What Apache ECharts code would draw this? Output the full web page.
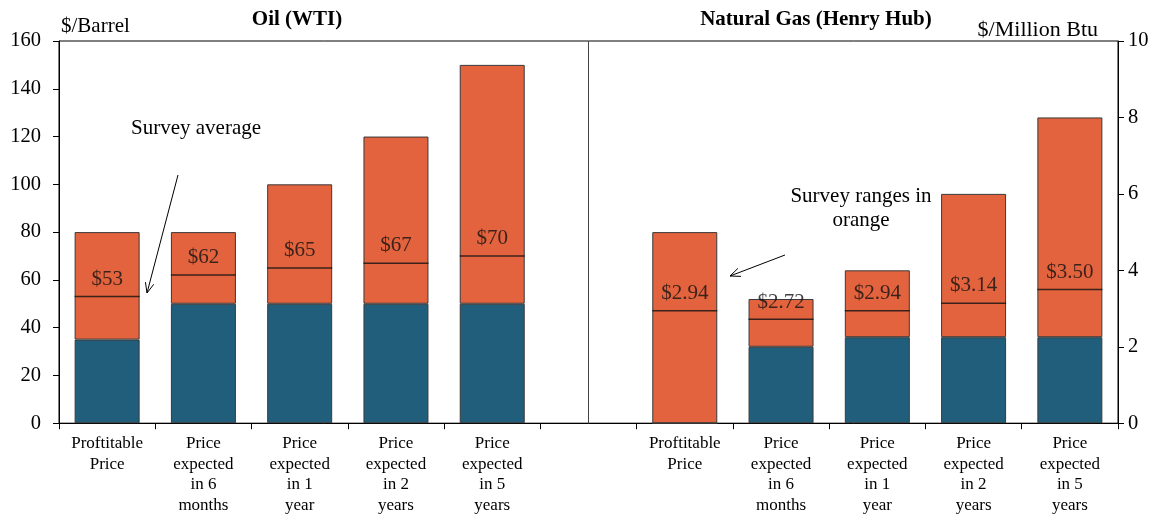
<!DOCTYPE html>
<html>
<head>
<meta charset="utf-8">
<script src="https://cdn.jsdelivr.net/npm/echarts@6/dist/echarts.min.js"></script>
<style>
  html, body { margin: 0; padding: 0; background: #fff; }
  #chart { width: 1167px; height: 516px; }
</style>
</head>
<body>
<div id="chart"></div>
<script>
// data
const categories = [
  'Proftitable\nPrice', 'Price\nexpected\nin 6\nmonths', 'Price\nexpected\nin 1\nyear',
  'Price\nexpected\nin 2\nyears', 'Price\nexpected\nin 5\nyears',
  '',
  'Proftitable\nPrice', 'Price\nexpected\nin 6\nmonths', 'Price\nexpected\nin 1\nyear',
  'Price\nexpected\nin 2\nyears', 'Price\nexpected\nin 5\nyears'
]
// oil, $/barrel (left axis)
const oilLow = [35, 50, 50, 50, 50]
const oilHigh = [80, 80, 100, 120, 150]
const oilAvg = [53, 62, 65, 67, 70]
// natural gas, $/million Btu (right axis)
const gasLow = [0, 2, 2.25, 2.25, 2.25]
const gasHigh = [5, 3.25, 4, 6, 8]
const gasAvg = [2.94, 2.72, 2.94, 3.14, 3.50]
const oilTicks = [0, 160, 20]
const gasTicks = [0, 10, 2]

const BLUE = '#215e7c'
const ORANGE = '#e2633d'
const EDGE = '#3a3a3a'
const FONT = '"Liberation Serif", "Times New Roman", serif'

// oil sits in slots 0-4, gas in 6-10
const pad = (arr, left) => {
  let out = categories.map(() => '-')
  arr.forEach((v, i) => { out[(left ? 0 : 6) + i] = v })
  return out
}
const range = (low, high) => high.map((h, i) => +(h - low[i]).toFixed(2))

function arrow(x1, y1, x2, y2) {
  let dx = x2 - x1, dy = y2 - y1
  let len = Math.sqrt(dx * dx + dy * dy)
  let ux = dx / len, uy = dy / len
  let h = 11, a = 0.4
  let p1 = [x2 - h * (ux * Math.cos(a) - uy * Math.sin(a)), y2 - h * (uy * Math.cos(a) + ux * Math.sin(a))]
  let p2 = [x2 - h * (ux * Math.cos(a) + uy * Math.sin(a)), y2 - h * (uy * Math.cos(a) - ux * Math.sin(a))]
  let style = { stroke: '#000', lineWidth: 1, fill: null }
  return [
    { type: 'line', shape: { x1, y1, x2, y2 }, style },
    { type: 'polyline', shape: { points: [p1, [x2, y2], p2] }, style }
  ]
}

function avgSeries(name, arr, left) {
  return {
    name,
    type: 'scatter',
    yAxisIndex: left ? 0 : 1,
    symbol: 'rect',
    symbolSize: [65, 1.5],
    itemStyle: { color: '#111' },
    z: 5,
    silent: true,
    label: {
      show: true,
      position: 'top',
      distance: 6,
      fontFamily: FONT,
      fontSize: 21,
      color: '#111',
      formatter: p => '$' + (left ? p.value : p.value.toFixed(2))
    },
    data: pad(arr, left)
  }
}

const chart = echarts.init(document.getElementById('chart'))

const barBase = {
  type: 'bar',
  barWidth: 65,
  barGap: '-100%',
  silent: true
}

const headStyle = (bold, size) => ({ fontFamily: FONT, fontSize: size || 21, fontWeight: bold ? 'bold' : 'normal', color: '#000' })

const option = {
  animation: false,
  textStyle: { fontFamily: FONT },
  grid: { left: 59, right: 49, top: 41, bottom: 92, show: true, borderColor: '#000', borderWidth: 1 },
  title: [
    { text: 'Oil (WTI)', left: 297, top: 9, padding: 0, textAlign: 'center', textStyle: headStyle(true) },
    { text: 'Natural Gas (Henry Hub)', left: 816, top: 9, padding: 0, textAlign: 'center', textStyle: headStyle(true) },
    { text: '$/Barrel', left: 61, top: 16, padding: 0, textStyle: headStyle(false) },
    { text: '$/Million Btu', right: 69, top: 19, padding: 0, textStyle: headStyle(false, 22) }
  ],
  xAxis: {
    type: 'category',
    data: categories,
    axisLine: { lineStyle: { color: '#000', width: 1 } },
    axisTick: { show: true, length: 6, interval: 0, lineStyle: { color: '#000' } },
    axisLabel: { interval: 0, fontFamily: FONT, fontSize: 17, lineHeight: 20.7, color: '#000', margin: 10 }
  },
  yAxis: [
    {
      type: 'value', min: oilTicks[0], max: oilTicks[1], interval: oilTicks[2],
      axisLine: { show: true, lineStyle: { color: '#000' } },
      axisTick: { show: true, length: 6, lineStyle: { color: '#000' } },
      splitLine: { show: false },
      axisLabel: { fontFamily: FONT, fontSize: 20.5, color: '#000', margin: 18 }
    },
    {
      type: 'value', min: gasTicks[0], max: gasTicks[1], interval: gasTicks[2], position: 'right',
      axisLine: { show: true, lineStyle: { color: '#000' } },
      axisTick: { show: true, length: 6, lineStyle: { color: '#000' } },
      splitLine: { show: false },
      axisLabel: { fontFamily: FONT, fontSize: 20.5, color: '#000', margin: 10 }
    }
  ],
  series: [
    Object.assign({}, barBase, {
      name: 'Oil low', stack: 'oil', yAxisIndex: 0,
      itemStyle: { color: BLUE, borderColor: EDGE, borderWidth: 1 },
      data: pad(oilLow, true),
      markLine: {
        silent: true, symbol: 'none', label: { show: false },
        lineStyle: { color: '#444', width: 1, type: 'solid' },
        data: [{ xAxis: 5 }]
      }
    }),
    Object.assign({}, barBase, {
      name: 'Oil range', stack: 'oil', yAxisIndex: 0,
      itemStyle: { color: ORANGE, borderColor: EDGE, borderWidth: 1 },
      data: pad(range(oilLow, oilHigh), true)
    }),
    Object.assign({}, barBase, {
      name: 'Gas low', stack: 'gas', yAxisIndex: 1,
      itemStyle: { color: BLUE, borderColor: EDGE, borderWidth: 1 },
      data: pad(gasLow, false)
    }),
    Object.assign({}, barBase, {
      name: 'Gas range', stack: 'gas', yAxisIndex: 1,
      itemStyle: { color: ORANGE, borderColor: EDGE, borderWidth: 1 },
      data: pad(range(gasLow, gasHigh), false)
    }),
    avgSeries('Oil average', oilAvg, true),
    avgSeries('Gas average', gasAvg, false)
  ],
  graphic: [
    { type: 'text', left: 131, top: 118,
      style: { text: 'Survey average', font: '21px ' + FONT, fill: '#000' } },
    { type: 'text', x: 861, y: 184,
      style: { text: 'Survey ranges in\norange', font: '21px ' + FONT, fill: '#000', textAlign: 'center', lineHeight: 24 } }
  ].concat(arrow(178, 175, 147, 293), arrow(785, 255, 730, 276))
}

chart.setOption(option)
</script>
</body>
</html>
